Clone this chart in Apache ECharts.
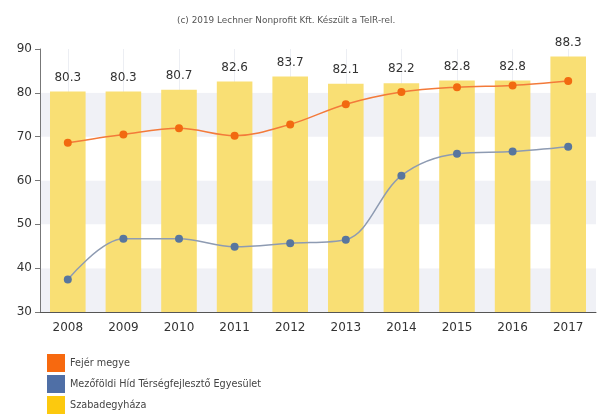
<!DOCTYPE html>
<html>
<head>
<meta charset="utf-8">
<script src="https://cdn.jsdelivr.net/npm/echarts@6/dist/echarts.min.js"></script>
<style>html,body{margin:0;padding:0;background:#fff}#c{width:597px;height:415px}</style>
</head>
<body>
<div id="c"></div>
<script>
const years = ['2008','2009','2010','2011','2012','2013','2014','2015','2016','2017'];
const fejer = [68.6, 70.5, 71.9, 70.2, 72.8, 77.4, 80.2, 81.3, 81.7, 82.7];
const mezofoldi = [37.4, 46.7, 46.7, 44.9, 45.7, 46.5, 61.1, 66.1, 66.6, 67.7];
const szabadegyhaza = [80.3, 80.3, 80.7, 82.6, 83.7, 82.1, 82.2, 82.8, 82.8, 88.3];
const seriesNames = ['Fejér megye', 'Mezőföldi Híd Térségfejlesztő Egyesület', 'Szabadegyháza'];

const chart = echarts.init(document.getElementById('c'), null, {renderer: 'canvas'});
const font = 'DejaVu Sans';
chart.setOption({
  animation: false,
  textStyle: {fontFamily: font},
  title: {
    text: '(c) 2019 Lechner Nonprofit Kft. Készült a TeIR-rel.',
    left: 172, top: 11,
    textStyle: {fontSize: 8.9, fontWeight: 'normal', color: '#555', fontFamily: font}
  },
  legend: {
    orient: 'vertical', left: 47, top: 354, height: 62, padding: 0,
    itemWidth: 18, itemHeight: 18, itemGap: 3,
    icon: 'rect',
    textStyle: {fontSize: 9.7, color: '#444', fontFamily: font},
    data: [
      {name: seriesNames[0], itemStyle: {color: '#f7690f'}},
      {name: seriesNames[1], itemStyle: {color: '#4f6fa6'}},
      {name: seriesNames[2], itemStyle: {color: '#fcc90e'}}
    ]
  },
  grid: {left: 40, right: 1, top: 49, bottom: 103},
  xAxis: {
    type: 'category', data: years,
    axisLine: {lineStyle: {color: '#555'}},
    axisTick: {alignWithLabel: true, length: 5, lineStyle: {color: '#555'}},
    axisLabel: {fontSize: 12, color: '#333', margin: 10},
    splitLine: {show: true, alignWithLabel: true, lineStyle: {color: '#eceef3'}}
  },
  yAxis: {
    type: 'value', min: 30, max: 90, interval: 10,
    axisLine: {show: true, lineStyle: {color: '#777'}},
    axisTick: {show: true, length: 5, lineStyle: {color: '#777'}},
    axisLabel: {fontSize: 12, color: '#333', margin: 8},
    splitLine: {show: false},
    splitArea: {show: true, areaStyle: {color: ['#f0f1f6', '#ffffff']}}
  },
  series: [
    {
      name: seriesNames[2], type: 'bar', data: szabadegyhaza, barWidth: '64%', z: 1,
      itemStyle: {color: '#f9df74'},
      label: {show: true, position: 'top', distance: 8, fontSize: 12, color: '#333', fontFamily: font}
    },
    {
      name: seriesNames[0], type: 'line', data: fejer, smooth: 0.35, z: 3,
      symbol: 'circle', symbolSize: 8,
      lineStyle: {color: '#f37a3a', width: 1.5},
      itemStyle: {color: '#f26a10'}
    },
    {
      name: seriesNames[1], type: 'line', data: mezofoldi, smooth: 0.35, z: 3,
      symbol: 'circle', symbolSize: 8,
      lineStyle: {color: '#8e9bb2', width: 1.5},
      itemStyle: {color: '#58769e'}
    }
  ]
});
</script>
</body>
</html>
